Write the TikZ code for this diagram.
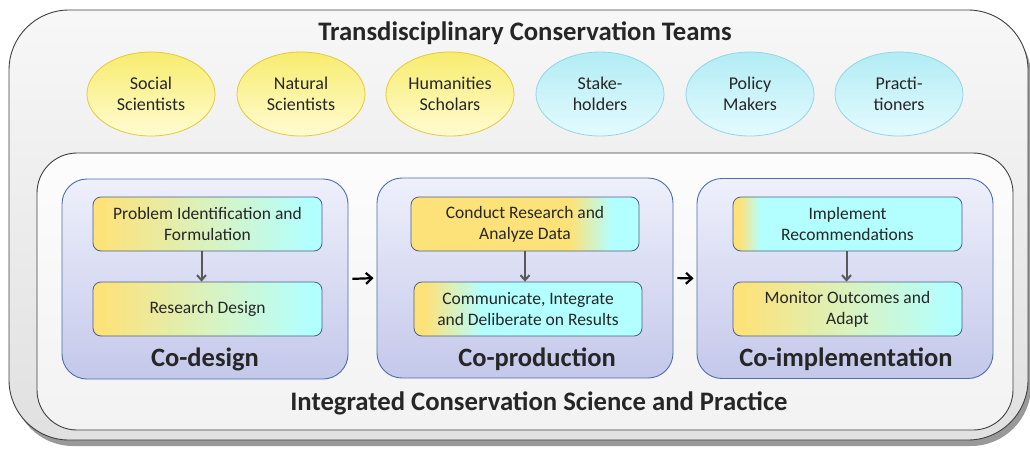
\documentclass[tikz,border=0pt]{standalone}
\usepackage{fontspec}
\setmainfont{Carlito}
\usetikzlibrary{arrows.meta,shapes.geometric}
\definecolor{gyel}{HTML}{FDE27A}
\definecolor{gcyan}{HTML}{B3FFFF}
\definecolor{gmid}{HTML}{DAF2BE}
\definecolor{stTop}{HTML}{EEF0FB}
\definecolor{stBot}{HTML}{C4C8EA}
\definecolor{stLine}{HTML}{4A6FB0}
\definecolor{bxLine}{HTML}{4A5F86}
\definecolor{elYTop}{HTML}{F8EC6E}
\definecolor{elYBot}{HTML}{FFFCD2}
\definecolor{elYLine}{HTML}{E6C83A}
\definecolor{elBTop}{HTML}{B2ECF4}
\definecolor{elBBot}{HTML}{E4FBFF}
\definecolor{elBLine}{HTML}{92D6E6}
\definecolor{txt}{HTML}{262626}
\pgfdeclarehorizontalshading{gA}{100bp}{color(0bp)=(gyel);color(25bp)=(gyel);color(27bp)=(gyel);color(50bp)=(gmid);color(72bp)=(gcyan);color(100bp)=(gcyan)}
\pgfdeclarehorizontalshading{gB}{100bp}{color(0bp)=(gyel);color(25bp)=(gyel);color(60bp)=(gyel);color(69bp)=(gcyan);color(100bp)=(gcyan)}
\pgfdeclarehorizontalshading{gC}{100bp}{color(0bp)=(gyel);color(25bp)=(gyel);color(27.5bp)=(gyel);color(40bp)=(gcyan);color(100bp)=(gcyan)}
\pgfdeclarehorizontalshading{gD}{100bp}{color(0bp)=(gyel);color(25bp)=(gyel);color(26.5bp)=(gyel);color(31bp)=(gcyan);color(100bp)=(gcyan)}
\begin{document}
\begin{tikzpicture}[x=1pt,y=-1pt,
  ell/.style={ellipse,minimum width=128pt,minimum height=84pt,inner sep=0pt,align=center,
     font=\fontsize{18}{20.5}\selectfont,text=txt,line width=0.8pt},
  yell/.style={ell,draw=elYLine,top color=elYTop,bottom color=elYBot},
  bell/.style={ell,draw=elBLine,top color=elBTop,bottom color=elBBot},
  stage/.style={draw=stLine,line width=0.9pt,rounded corners=25pt,top color=stTop,bottom color=stBot,
     minimum height=200pt,inner sep=0pt},
  stlabel/.style={font=\fontsize{26.5}{30}\selectfont\bfseries,text=txt},
  bx/.style={draw=bxLine,line width=0.8pt,rounded corners=8pt,minimum width=229pt,minimum height=54pt,
     inner sep=0pt,align=center,font=\fontsize{17.5}{21}\selectfont,text=txt},
  darr/.style={draw=black!65,line width=2pt,-{Straight Barb[length=5pt,width=9pt]}},
  harr/.style={draw=black,line width=2.2pt,-{Straight Barb[length=6pt,width=11pt]},shorten <=4pt,shorten >=3pt},
  big/.style={font=\fontsize{26.7}{30}\selectfont\bfseries,text=txt}
]
\useasboundingbox (0,0) rectangle (1030,448);
% outer box
\fill[black!40,rounded corners=60pt] (13,16) rectangle (1031,446);
\node[draw=black!75,line width=0.9pt,rounded corners=60pt,top color=black!3,bottom color=black!12,
  minimum width=1019pt,minimum height=430pt,inner sep=0pt] (outer) at (518.5,225) {};
\node[big] (title) at (525,33) {Transdisciplinary Conservation Teams};
% ellipses
\node[yell] (e1) at (151,94) {Social\\Scientists};
\node[yell] (e2) at (301,94) {Natural\\Scientists};
\node[yell] (e3) at (450,94) {Humanities\\Scholars};
\node[bell] (e4) at (600,94) {Stake-\\holders};
\node[bell] (e5) at (750,94) {Policy\\Makers};
\node[bell] (e6) at (899,94) {Practi-\\tioners};
% inner box
\node[draw=black!75,line width=0.9pt,rounded corners=40pt,top color=black!1,bottom color=black!5,
  minimum width=976pt,minimum height=277pt,inner sep=0pt] (inner) at (525,291.5) {};
% stages
\node[stage,minimum width=286pt] (s1) at (205,279) {};
\node[stage,minimum width=296pt] (s2) at (525,278) {};
\node[stage,minimum width=296pt] (s3) at (845,278.5) {};
% boxes
\node[bx,shading=gA] (b11) at (207.5,224) {Problem Identification and\\Formulation};
\node[bx,shading=gA] (b12) at (207.5,309) {Research Design};
\node[bx,shading=gB,minimum width=228pt] (b21) at (525,224) {Conduct Research and\\Analyze Data};
\node[bx,shading=gC,minimum width=228pt] (b22) at (528,309) {Communicate, Integrate\\and Deliberate on Results};
\node[bx,shading=gD] (b31) at (847.5,224) {Implement\\Recommendations};
\node[bx,shading=gA] (b32) at (847.5,309) {Monitor Outcomes and\\Adapt};
% stage labels
\node[stlabel] (l1) at (205,359) {Co-design};
\node[stlabel] (l2) at (537,359) {Co-production};
\node[stlabel] (l3) at (846,359) {Co-implementation};
\node[big] (bottom) at (539,403) {Integrated Conservation Science and Practice};
% arrows
\draw[darr] ([xshift=-6pt]b11.south) -- ([xshift=-6pt]b12.north);
\draw[darr] (b21.south) -- (b21.south |- b22.north);
\draw[darr] ([xshift=-1pt]b31.south) -- ([xshift=-1pt]b32.north);
\draw[harr] (s1.east) -- (s2.west);
\draw[harr] (s2.east) -- (s3.west);
\end{tikzpicture}
\end{document}
